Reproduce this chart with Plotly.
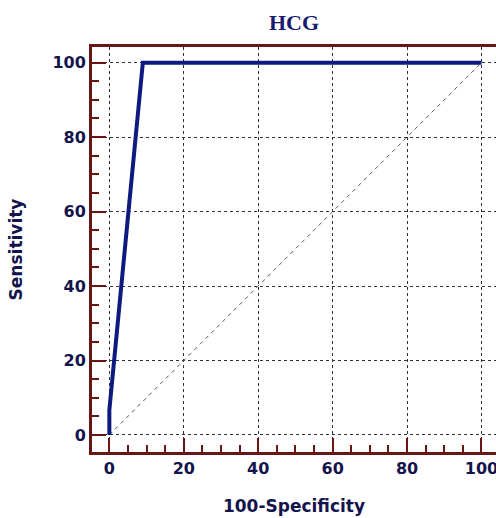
import plotly.graph_objects as go

# ROC curve data (100-Specificity, Sensitivity)
roc_x = [0, 0, 9, 100]
roc_y = [0, 6.7, 100, 100]
diag_x = [0, 100]
diag_y = [0, 100]
x_ticks = [0, 20, 40, 60, 80, 100]
y_ticks = [0, 20, 40, 60, 80, 100]

AXIS = "#6a1515"
NAVY = "#14144d"
CURVE = "#0f1a80"

fig = go.Figure()
fig.add_trace(go.Scatter(x=diag_x, y=diag_y, mode="lines",
                         line=dict(color="#555555", width=1, dash="4px,4px"),
                         hoverinfo="skip", showlegend=False))
fig.add_trace(go.Scatter(x=roc_x, y=roc_y, mode="lines",
                         line=dict(color=CURVE, width=4),
                         cliponaxis=False, showlegend=False))

fig.update_layout(
    width=496, height=518,
    margin=dict(l=92, r=0, t=47, b=66, autoexpand=False),
    paper_bgcolor="white", plot_bgcolor="white",
    title=dict(text="<b>HCG</b>", x=0.5, xref="paper", xanchor="center",
               y=1 - 22 / 518, yanchor="middle",
               font=dict(family="Liberation Serif", size=22, color="#1a1a70")),
    font=dict(family="DejaVu Sans", size=17, color=NAVY),
)

tickfont = dict(family="DejaVu Sans", size=16, color=NAVY, weight="bold")

fig.update_xaxes(
    range=[-4.66, 103.9], tickvals=x_ticks, ticktext=[str(v) for v in x_ticks],
    automargin=False, ticklabeloverflow="allow",
    showline=True, linecolor=AXIS, linewidth=3, mirror=True,
    ticks="inside", ticklen=14, tickwidth=2, tickcolor=AXIS,
    minor=dict(dtick=5, ticks="inside", ticklen=7, tickwidth=2, tickcolor=AXIS, showgrid=False),
    showgrid=True, gridcolor="#333333", gridwidth=1, griddash="3px,3px",
    zeroline=False,
    tickfont=tickfont,
    title=dict(text="100-Specificity", standoff=23,
               font=dict(family="DejaVu Sans", size=17, color=NAVY, weight="bold")),
)
fig.update_yaxes(
    range=[-4.57, 104.2], tickvals=y_ticks, ticktext=[str(v) for v in y_ticks],
    automargin=False, ticklabeloverflow="allow",
    showline=True, linecolor=AXIS, linewidth=3, mirror=False,
    ticks="inside", ticklen=14, tickwidth=2, tickcolor=AXIS,
    minor=dict(dtick=5, ticks="inside", ticklen=7, tickwidth=2, tickcolor=AXIS, showgrid=False),
    showgrid=True, gridcolor="#333333", gridwidth=1, griddash="3px,3px",
    zeroline=False,
    tickfont=tickfont,
    title=dict(text="Sensitivity", standoff=26,
               font=dict(family="DejaVu Sans", size=17, color=NAVY, weight="bold")),
)

fig.write_html("out.html", config={"displayModeBar": False},
               post_script="document.body.style.margin='0';document.body.style.overflow='hidden';")
